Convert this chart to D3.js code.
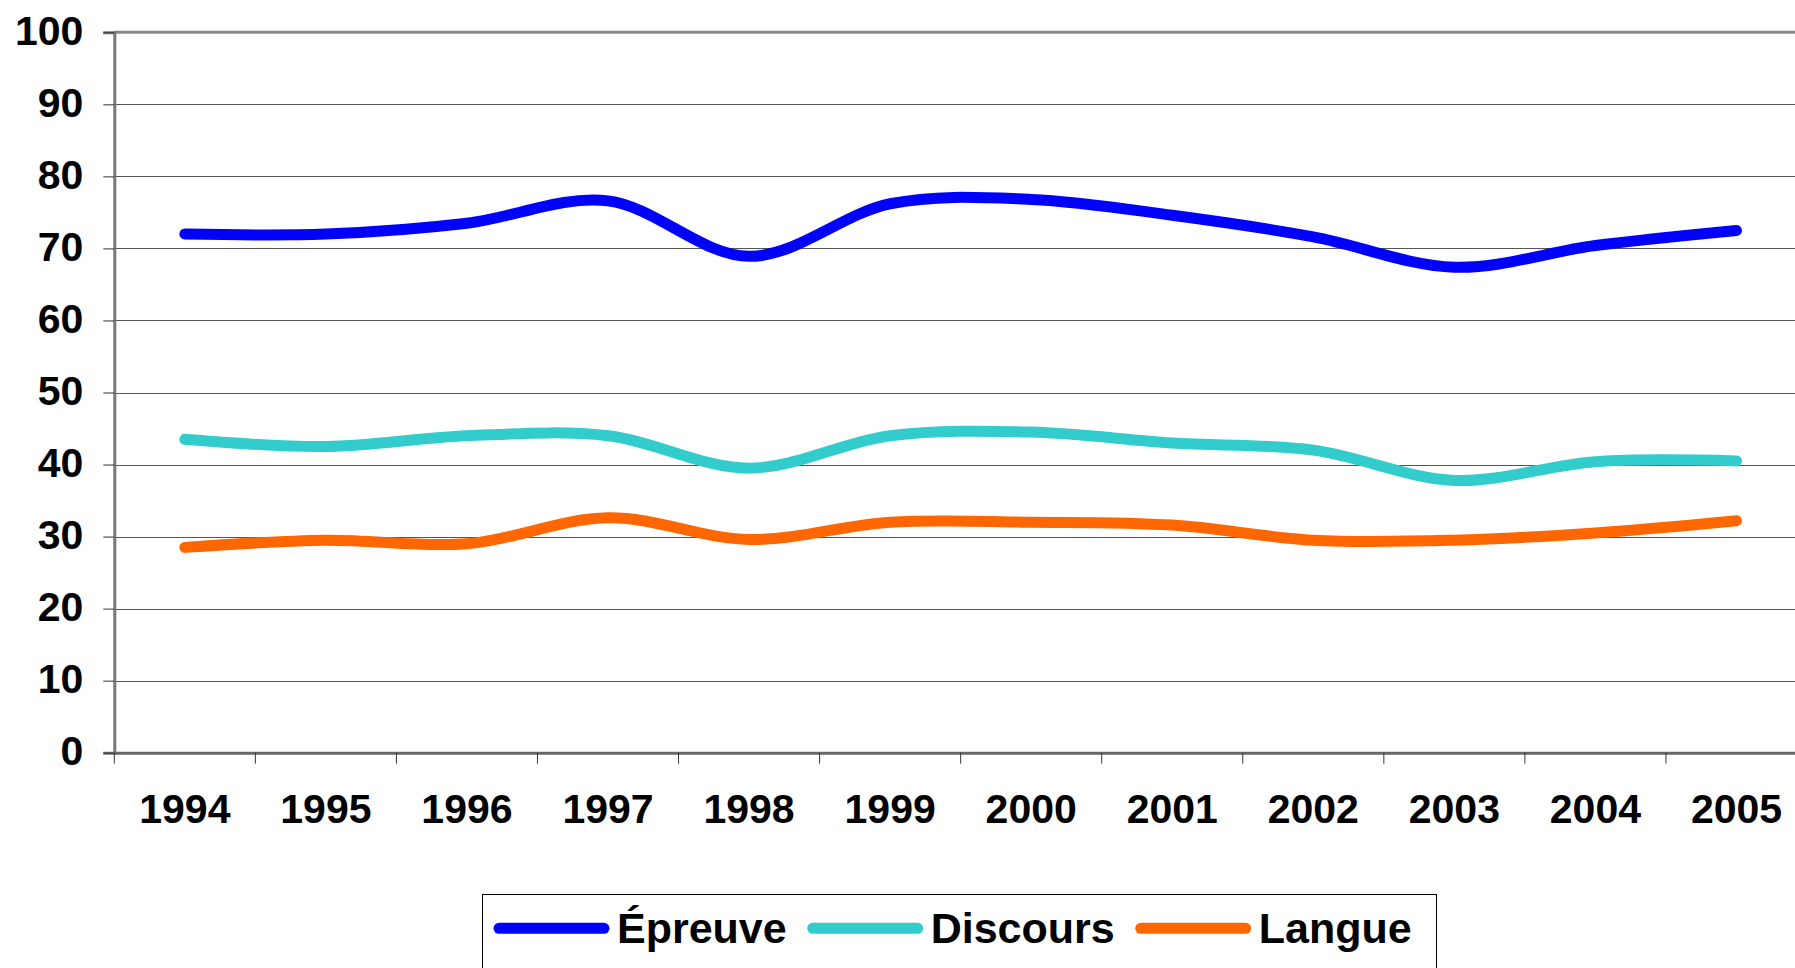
<!DOCTYPE html>
<html>
<head>
<meta charset="utf-8">
<script src="https://cdn.jsdelivr.net/npm/d3@7"></script>
<style>
  body { margin: 0; background: #fff; }
  text { font-family: "Liberation Sans", Arial, sans-serif; font-weight: bold; fill: #000; }
</style>
</head>
<body>
<div id="chart"></div>
<script>
// chart data
const years = ["1994", "1995", "1996", "1997", "1998", "1999", "2000", "2001", "2002", "2003", "2004", "2005"];
const epreuve = [72, 72, 73.5, 76.6, 68.9, 76.2, 76.8, 74.6, 71.6, 67.4, 70.4, 72.5];
const discours = [43.5, 42.5, 44.0, 44.0, 39.5, 44.0, 44.5, 43.0, 42.0, 37.8, 40.4, 40.5];
const langue = [28.5, 29.5, 29.0, 32.6, 29.6, 32.0, 32.0, 31.6, 29.5, 29.5, 30.5, 32.2];
const yTicks = [0, 10, 20, 30, 40, 50, 60, 70, 80, 90, 100];

const seriesNames = ["Épreuve", "Discours", "Langue"];
const seriesColors = ["#0000ff", "#33cccc", "#ff6600"];

const width = 1795, height = 968;
const plotLeft = 114.3, bandStep = 141.06;

let svg = d3.select("#chart")
    .append("svg")
    .attr("width", width)
    .attr("height", height);

// x scale: one band per year, the last band runs past the right edge
let x = d3.scaleBand()
    .domain(years)
    .range([plotLeft, plotLeft + bandStep * years.length]);

// y scale
let y = d3.scaleLinear()
    .domain([0, 100])
    .range([752.7, 32.3]);

// horizontal gridlines
svg.append("g")
    .selectAll("line")
    .data(yTicks.filter(d => d > 0 && d < 100))
    .enter()
    .append("line")
    .attr("x1", plotLeft)
    .attr("x2", width)
    .attr("y1", d => Math.round(y(d)) + 0.5)
    .attr("y2", d => Math.round(y(d)) + 0.5)
    .attr("stroke", "#555")
    .attr("stroke-width", 1);

// top border of the plot area
svg.append("line")
    .attr("x1", plotLeft)
    .attr("x2", width)
    .attr("y1", y(100))
    .attr("y2", y(100))
    .attr("stroke", "#888")
    .attr("stroke-width", 3);

// y axis
let yAxis = svg.append("g")
    .attr("transform", `translate(${plotLeft}, 0)`)
    .call(d3.axisLeft(y).tickValues(yTicks).tickSize(11).tickPadding(20));
yAxis.select(".domain").attr("stroke", "#777").attr("stroke-width", 3);
yAxis.selectAll(".tick line").attr("stroke", "#333");
yAxis.selectAll(".tick text")
    .style("font-size", "41px")
    .attr("dy", "12px");

// x axis
let xAxis = svg.append("g")
    .attr("transform", `translate(0, ${y(0)})`)
    .call(d3.axisBottom(x).tickSize(0).tickPadding(0));
xAxis.select(".domain").attr("stroke", "#666").attr("stroke-width", 3);
xAxis.selectAll(".tick text")
    .style("font-size", "41px")
    .attr("dy", null)
    .attr("y", 70);

// tick marks between the year bands
svg.append("g")
    .selectAll("line")
    .data(years)
    .enter()
    .append("line")
    .attr("x1", d => x(d))
    .attr("x2", d => x(d))
    .attr("y1", y(0))
    .attr("y2", y(0) + 11)
    .attr("stroke", "#333")
    .attr("stroke-width", 1);

// lines
let line = d3.line()
    .x((d, i) => x(years[i]) + x.bandwidth() / 2)
    .y(d => y(d))
    .curve(d3.curveCardinal.tension(0));

[epreuve, discours, langue].forEach(function(values, i) {
    svg.append("path")
        .datum(values)
        .attr("fill", "none")
        .attr("stroke", seriesColors[i])
        .attr("stroke-width", 11)
        .attr("stroke-linecap", "round")
        .attr("stroke-linejoin", "round")
        .attr("d", line);
});

// legend
let legend = svg.append("g");
legend.append("rect")
    .attr("x", 482.5)
    .attr("y", 894.5)
    .attr("width", 954)
    .attr("height", 90)
    .attr("fill", "#fff")
    .attr("stroke", "#000")
    .attr("stroke-width", 1);

let cursor = 494;
seriesNames.forEach(function(name, i) {
    legend.append("line")
        .attr("x1", cursor + 5)
        .attr("x2", cursor + 110)
        .attr("y1", 928.3)
        .attr("y2", 928.3)
        .attr("stroke", seriesColors[i])
        .attr("stroke-width", 11)
        .attr("stroke-linecap", "round");
    let label = legend.append("text")
        .attr("x", cursor + 123)
        .attr("y", 943)
        .style("font-size", "43px")
        .text(name);
    cursor += 123 + label.node().getComputedTextLength() + 21;
});
</script>
</body>
</html>
